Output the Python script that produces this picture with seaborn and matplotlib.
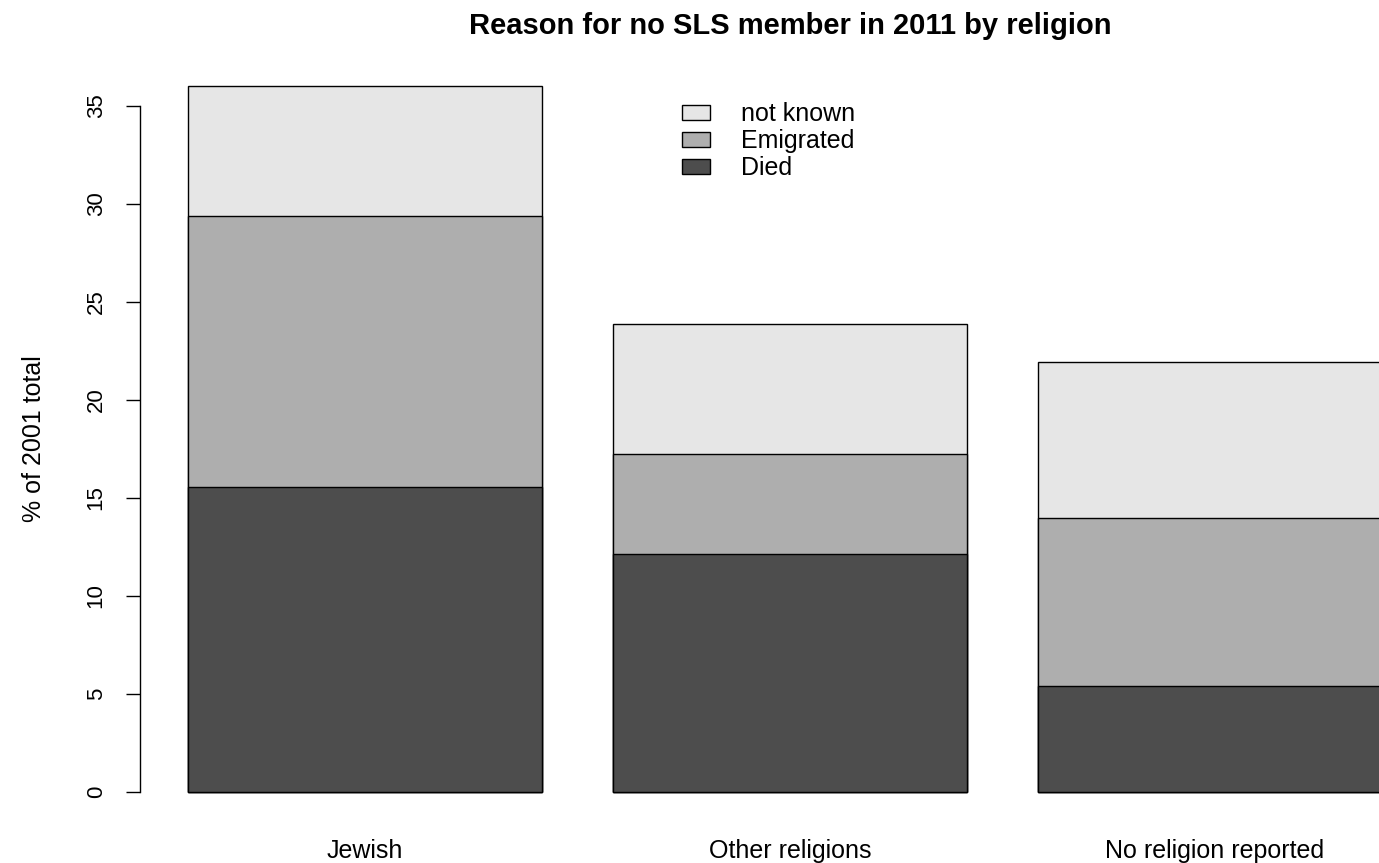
import numpy as np
import matplotlib
matplotlib.use('Agg')
import matplotlib.pyplot as plt
import seaborn as sns

religions = ['Jewish', 'Other religions', 'No religion reported']
died = [15.55, 12.14, 5.41]
emigrated = [13.84, 5.10, 8.57]
not_known = [6.63, 6.64, 7.96]
reasons = ['not known', 'Emigrated', 'Died']
colors = ['#E6E6E6', '#AEAEAE', '#4D4D4D']

sns.set_style('ticks', {'text.color': 'black', 'axes.labelcolor': 'black',
                        'xtick.color': 'black', 'ytick.color': 'black',
                        'axes.edgecolor': 'black'})
plt.rcParams['font.family'] = ['Liberation Sans', 'DejaVu Sans']

# stacked heights, drawn back to front
died_top = np.array(died)
emig_top = died_top + np.array(emigrated)
total_top = emig_top + np.array(not_known)
tops = [total_top, emig_top, died_top]

fig = plt.figure(figsize=(13.79, 8.63), dpi=100)
ax = fig.add_axes([140 / 1379, 43 / 863, 1300 / 1379, 762 / 863])

for top, col, lab in zip(tops, colors, reasons):
    sns.barplot(x=religions, y=top, color=col, saturation=1, width=0.833,
                edgecolor='black', linewidth=1, label=lab, ax=ax)

ax.set_xlim(-0.53, 2.53)
ax.set_ylim(-1.43, 37.45)
ax.set_yticks([0, 5, 10, 15, 20, 25, 30, 35])
for s in ['top', 'right', 'bottom']:
    ax.spines[s].set_visible(False)
ax.spines['left'].set_bounds(0, 35)
ax.spines['left'].set_linewidth(1)
ax.tick_params(axis='y', length=10, width=1, pad=14, labelsize=16)
ax.tick_params(axis='x', length=0, pad=14, labelsize=18)
plt.setp(ax.get_yticklabels(), rotation=90, va='center')

ax.set_ylabel('% of 2001 total', fontsize=18)
ax.yaxis.set_label_coords(-0.072, 0.5)

handles, labels = ax.get_legend_handles_labels()
ax.legend(handles, labels, loc='upper left', frameon=False, fontsize=18,
          bbox_to_anchor=(682 / 1379, 1 - 102 / 863), bbox_transform=fig.transFigure,
          borderpad=0, borderaxespad=0, handlelength=1.1, handleheight=0.55,
          handletextpad=1.25, labelspacing=0.12)

fig.text(790 / 1379, 1 - 34 / 863, 'Reason for no SLS member in 2011 by religion',
         ha='center', va='baseline', fontsize=21, fontweight='bold', color='black')

fig.savefig('out.png', dpi=100)
